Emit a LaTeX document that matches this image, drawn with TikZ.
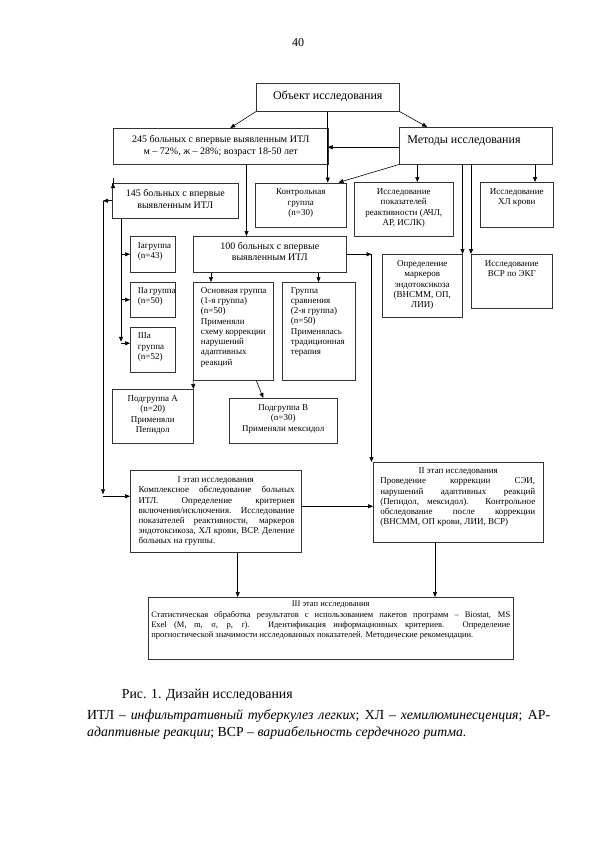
\documentclass[tikz,border=0pt]{standalone}
\usepackage{fontspec}
\setmainfont{Liberation Serif}
\usetikzlibrary{arrows.meta,calc}
\newcommand{\mybx}[3]{\parbox[c][#2][t]{#1}{#3}}
\begin{document}
\begin{tikzpicture}[x=1pt,y=-1pt,
  box/.style={draw=black!80, line width=0.5pt, inner sep=0pt, anchor=north west},
  arr/.style={draw=black, line width=0.6pt, -{Triangle[length=5pt,width=4pt]}},
  fbig/.style={font=\fontsize{12}{13.5}\selectfont},
  fmid/.style={font=\fontsize{10}{11.3}\selectfont},
  fsm/.style={font=\fontsize{9}{10.3}\selectfont},
  fst/.style={font=\fontsize{9}{10.2}\selectfont},
  fiii/.style={font=\fontsize{8.5}{10.2}\selectfont}]
\fill[white] (0,0) rectangle (594,841);
\useasboundingbox (0,0) rectangle (594,841);

\node[anchor=base, font=\fontsize{12}{14}\selectfont] (pg) at (298,46) {40};

% top row
\node[box,fbig] (obj) at (256,83) {\mybx{143pt}{28pt}{\vspace*{7.3pt}\centering Объект исследования}};
\node[box,fmid] (b245) at (113,128) {\mybx{215pt}{36pt}{\vspace*{7.5pt}\centering 245 больных с впервые выявленным ИТЛ\\ м – 72\%, ж – 28\%; возраст 18-50 лет}};
\node[box,fbig] (met) at (399,127) {\mybx{153pt}{37pt}{\vspace*{8.3pt}\raggedright\leftskip=8pt Методы исследования}};

% second row
\node[box,fmid] (b145) at (112,183) {\mybx{126pt}{35pt}{\vspace*{6.5pt}\centering 145 больных с впервые\\ выявленным ИТЛ}};
\node[box,fsm] (kontr) at (255,182.5) {\mybx{91pt}{44.5pt}{\vspace*{6.2pt}\centering Контрольная\\ группа\\ (n=30)}};
\node[box,fsm] (reakt) at (354,182) {\mybx{99pt}{54pt}{\vspace*{6.5pt}\centering Исследование\\ показателей\\ реактивности (АЧЛ,\\ АР, ИСЛК)}};
\node[box,fsm] (xl) at (480,182) {\mybx{73pt}{45pt}{\vspace*{6.5pt}\centering Исследование\\ ХЛ крови}};

% third row
\node[box,fsm] (Ia) at (130,236) {\mybx{45pt}{36pt}{\vspace*{5.9pt}\raggedright\leftskip=7.7pt Iагруппа\\ (n=43)}};
\node[box,fmid] (b100) at (193,236) {\mybx{153pt}{36pt}{\vspace*{6.2pt}\centering 100 больных с впервые\\ выявленным ИТЛ}};
\node[box,fsm] (opred) at (382,254) {\mybx{80pt}{63pt}{\vspace*{6.3pt}\centering Определение\\ маркеров\\ эндотоксикоза\\ (ВНСММ, ОП,\\ ЛИИ)}};
\node[box,fsm] (vsr) at (471,254) {\mybx{81pt}{54pt}{\vspace*{6.3pt}\centering Исследование\\ ВСР по ЭКГ}};

\node[box,fsm] (IIa) at (130,282) {\mybx{45pt}{35pt}{\vspace*{4.9pt}\raggedright\leftskip=7.7pt IIa~группа\\ (n=50)}};
\node[box,fsm] (IIIa) at (130,327) {\mybx{45pt}{45pt}{\vspace*{5.7pt}\raggedright\leftskip=7.7pt IIIa\\ группа\\ (n=52)}};
\node[box,fsm] (osn) at (193,282) {\mybx{80pt}{98pt}{\vspace*{4.9pt}\raggedright\leftskip=7.7pt Основная группа\\ (1-я группа)\\ (n=50)\\ Применяли\\ схему коррекции\\ нарушений\\ адаптивных\\ реакций}};
\node[box,fsm] (sravn) at (282,282) {\mybx{73pt}{98pt}{\vspace*{4.9pt}\raggedright\leftskip=8.7pt Группа\\ сравнения\\ (2-я группа)\\ (n=50)\\ Применялась\\ традиционная\\ терапия}};

\node[box,fsm] (podA) at (112,389) {\mybx{81pt}{54pt}{\vspace*{6.3pt}\centering Подгруппа А\\ (n=20)\\ Применяли\\ Пепидол}};
\node[box,fsm] (podB) at (229,398) {\mybx{108pt}{45pt}{\vspace*{6.3pt}\centering Подгруппа B\\ (n=30)\\ Применяли мексидол}};

% stages
\node[box,fst] (I) at (130,470) {\mybx{171pt}{82pt}{\vspace*{6.6pt}{\centering I этап исследования\par}\leftskip=8.3pt\rightskip=6.7pt Комплексное обследование больных\linebreak ИТЛ. Определение критериев\linebreak включения/исключения. Исследование\linebreak показателей реактивности, маркеров\linebreak эндотоксикоза, ХЛ крови, ВСР. Деление\linebreak больных на группы.\par}};
\node[box,fst] (II) at (373,462) {\mybx{170pt}{80pt}{\vspace*{5.6pt}{\centering II этап исследования\par}\leftskip=7pt\rightskip=8pt Проведение коррекции СЭИ,\linebreak нарушений адаптивных реакций\linebreak (Пепидол, мексидол). Контрольное\linebreak обследование после коррекции\linebreak (ВНСММ, ОП крови, ЛИИ, ВСР)\par}};
\node[box,fiii] (III) at (148,597) {\mybx{365pt}{62pt}{\vspace*{4pt}{\centering III этап исследования\par}\leftskip=3pt\rightskip=3pt Статистическая обработка результатов с использованием пакетов программ – Biostat, MS\linebreak Exel (M, m, σ, p, r). Идентификация информационных критериев. Определение\linebreak прогностической значимости исследованных показателей. Методические рекомендации.\par}};

% caption & legend
\node[anchor=base west, inner sep=0pt, font=\fontsize{13.8}{16}\selectfont] (cap) at (121.7,698.5) {Рис. 1. Дизайн исследования};
\node[anchor=north west, inner sep=0pt, text width=463pt, align=justify, font=\fontsize{13.8}{17}\selectfont] (leg) at (87,709.5) {\tolerance=9999 ИТЛ – \textit{инфильтративный туберкулез легких}; ХЛ – \textit{хемилюминесценция}; АР-\linebreak \textit{адаптивные реакции}; ВСР – \textit{вариабельность сердечного ритма.}};

% coordinates for vertical connectors
\coordinate (c1) at (417.3,0);
\coordinate (c2) at (535,0);
\coordinate (c3) at (246.5,0);
\coordinate (c4) at (371.5,0);
\coordinate (c5) at (121,0);
\coordinate (c6) at (103,0);
\coordinate (c7) at (211,0);
\coordinate (c8) at (318.5,0);
\coordinate (c9) at (237.7,0);
\coordinate (c10) at (435,0);
\coordinate (k3) at ($(c5 |- IIIa.west)+(0,-8)$);
\coordinate (iiia) at ($(IIIa.west)+(0,-6.5)$);
\coordinate (iw) at ($(I.west)+(0,-15)$);
\coordinate (ie) at ($(I.east)+(0,-5)$);
\coordinate (mw) at ($(met.west)+(0,1.5)$);

% connectors
\draw[arr] (obj.south west) -- ($(b245.north)+(9.5,0)$);
\draw[arr] (obj.south east) -- ($(met.north)+(-48.5,0)$);
\draw[arr] (obj.south) -- (obj.south |- kontr.north);
\draw[arr] (mw) -- (mw -| obj.south);
\draw[arr] (met.south west) -- ($(kontr.north east)+(-8,0)$);
\draw[arr] (c1 |- met.south) -- (c1 |- reakt.north);
\draw[arr] (opred.north east |- met.south) -- (opred.north east);
\draw[arr] (vsr.north west |- met.south) -- (vsr.north west);
\draw[arr] (c2 |- met.south) -- (c2 |- xl.north);

\draw[arr] ($(b145.north west)+(1,0)$ |- b245.south) -- ($(b145.north west)+(1,0)$);
\draw[arr] (c3 |- b245.south) -- (c3 |- b100.north);

\draw[arr] (b100.east) -- (c4 |- b100.east);
\draw[arr] (c4 |- b100.east) -- (c4 |- II.north);

\draw[arr] (c5 |- b145.south) -- (k3);
\draw[arr] (c5 |- Ia.west) -- (Ia.west);
\draw[arr] (c5 |- IIa.west) -- (IIa.west);
\draw[arr] (c5 |- iiia) -- (iiia);

\draw[arr] (b145.west) -- (c6 |- b145.west);
\draw[arr] (c6 |- b145.west) -- ($(c6 |- iw)+(0,-2)$);
\draw[arr] (c6 |- iw) -- (iw);

\draw[arr] (c7 |- b100.south) -- (c7 |- osn.north);
\draw[arr] (c8 |- b100.south) -- (c8 |- sravn.north);
\draw[arr] (osn.south west) -- (podA.north east);
\draw[arr] ($(osn.south)+(23,0)$) -- ($(podB.north)+(-20,0)$);

\draw[arr] (ie) -- (ie -| II.west);
\draw[arr] (c9 |- I.south) -- (c9 |- III.north);
\draw[arr] (c10 |- II.south) -- (c10 |- III.north);
\end{tikzpicture}
\end{document}
